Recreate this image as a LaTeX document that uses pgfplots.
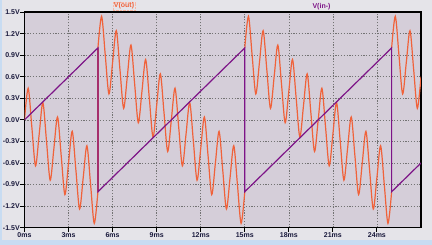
\documentclass[border=0pt]{standalone}
\usepackage{fontspec}
\setmainfont{Liberation Sans}
\usepackage{pgfplots}
\pgfplotsset{compat=1.18}
\definecolor{plotbg}{RGB}{213,206,217}
\definecolor{outerbg}{RGB}{229,228,233}
\definecolor{stripblue}{RGB}{200,220,242}
\definecolor{vout}{RGB}{240,98,58}
\definecolor{vin}{RGB}{125,20,135}
\definecolor{tickcol}{RGB}{25,25,60}
\begin{document}
\begin{tikzpicture}
\fill[outerbg] (0,0) rectangle (432pt,245pt);
\fill[stripblue] (0,0) rectangle (432pt,5pt);
\fill[stripblue] (0,0) rectangle (1.5pt,245pt);
\useasboundingbox (0,0) rectangle (432pt,245pt);
\begin{axis}[
  at={(24.5pt,17.3pt)}, anchor=south west,
  scale only axis, width=396.5pt, height=215.7pt,
  xmin=0, xmax=27, ymin=-1.5, ymax=1.5,
  axis background/.style={fill=plotbg},
  xtick={0,3,6,9,12,15,18,21,24},
  xticklabels={0ms,3ms,6ms,9ms,12ms,15ms,18ms,21ms,24ms},
  ytick={-1.5,-1.2,-0.9,-0.6,-0.3,0,0.3,0.6,0.9,1.2,1.5},
  yticklabels={-1.5V,-1.2V,-0.9V,-0.6V,-0.3V,0.0V,0.3V,0.6V,0.9V,1.2V,1.5V},
  tick align=outside, major tick length=4pt,
  xtick pos=left, ytick pos=left,
  grid=major,
  major grid style={black!55, dash pattern=on 1.2pt off 1.6pt, line width=0.6pt},
  axis line style={line width=1.2pt, black},
  tick style={black, line width=0.9pt},
  ticklabel style={font=\bfseries\fontsize{7}{8}\selectfont, text=tickcol},
  yticklabel style={inner sep=0.6pt},
  xticklabel style={inner sep=0.8pt},
]
% V(out)
\addplot[vout, line width=1.2pt, smooth] coordinates {
(0,0) (0.25,0.44) (0.5,-0.10) (0.75,-0.64) (1,-0.20) (1.25,0.24) (1.5,-0.30) (1.75,-0.84)
(2,-0.40) (2.25,0.04) (2.5,-0.50) (2.75,-1.04) (3,-0.60) (3.25,-0.16) (3.5,-0.70) (3.75,-1.24)
(4,-0.80) (4.25,-0.36) (4.5,-0.90) (4.75,-1.44) (5,-1.00)};
\addplot[vout, line width=1.2pt] coordinates {(5,-1.00) (5,1.00)};
\addplot[vout, line width=1.2pt, smooth] coordinates {
(5,1.00) (5.25,1.44) (5.5,0.90) (5.75,0.36) (6,0.80) (6.25,1.24) (6.5,0.70) (6.75,0.16)
(7,0.60) (7.25,1.04) (7.5,0.50) (7.75,-0.04) (8,0.40) (8.25,0.84) (8.5,0.30) (8.75,-0.24)
(9,0.20) (9.25,0.64) (9.5,0.10) (9.75,-0.44) (10,0.00) (10.25,0.44) (10.5,-0.10) (10.75,-0.64)
(11,-0.20) (11.25,0.24) (11.5,-0.30) (11.75,-0.84) (12,-0.40) (12.25,0.04) (12.5,-0.50) (12.75,-1.04)
(13,-0.60) (13.25,-0.16) (13.5,-0.70) (13.75,-1.24) (14,-0.80) (14.25,-0.36) (14.5,-0.90) (14.75,-1.44)
(15,-1.00)};
\addplot[vout, line width=1.2pt] coordinates {(15,-1.00) (15,1.00)};
\addplot[vout, line width=1.2pt, smooth] coordinates {
(15,1.00) (15.25,1.44) (15.5,0.90) (15.75,0.36) (16,0.80) (16.25,1.24) (16.5,0.70) (16.75,0.16)
(17,0.60) (17.25,1.04) (17.5,0.50) (17.75,-0.04) (18,0.40) (18.25,0.84) (18.5,0.30) (18.75,-0.24)
(19,0.20) (19.25,0.64) (19.5,0.10) (19.75,-0.44) (20,0.00) (20.25,0.44) (20.5,-0.10) (20.75,-0.64)
(21,-0.20) (21.25,0.24) (21.5,-0.30) (21.75,-0.84) (22,-0.40) (22.25,0.04) (22.5,-0.50) (22.75,-1.04)
(23,-0.60) (23.25,-0.16) (23.5,-0.70) (23.75,-1.24) (24,-0.80) (24.25,-0.36) (24.5,-0.90) (24.75,-1.44)
(25,-1.00)};
\addplot[vout, line width=1.2pt] coordinates {(25,-1.00) (25,1.00)};
\addplot[vout, line width=1.2pt, smooth] coordinates {
(25,1.00) (25.25,1.44) (25.5,0.90) (25.75,0.36) (26,0.80) (26.25,1.24) (26.5,0.70) (26.75,0.16)
(27,0.60)};
% V(in-)
\addplot[vin, line width=1.2pt] coordinates {
(0,0) (5,1) (5,-1) (15,1) (15,-1) (25,1) (25,-1) (27,-0.6)};
\end{axis}
\node[text=vout, font=\bfseries\fontsize{7}{8}\selectfont, draw=vout!45, densely dotted, inner sep=1pt] at (124pt,239pt) {V(out)};
\node[text=vin, font=\bfseries\fontsize{7}{8}\selectfont, inner sep=1pt] at (321.5pt,238.5pt) {V(in-)};
\end{tikzpicture}
\end{document}
